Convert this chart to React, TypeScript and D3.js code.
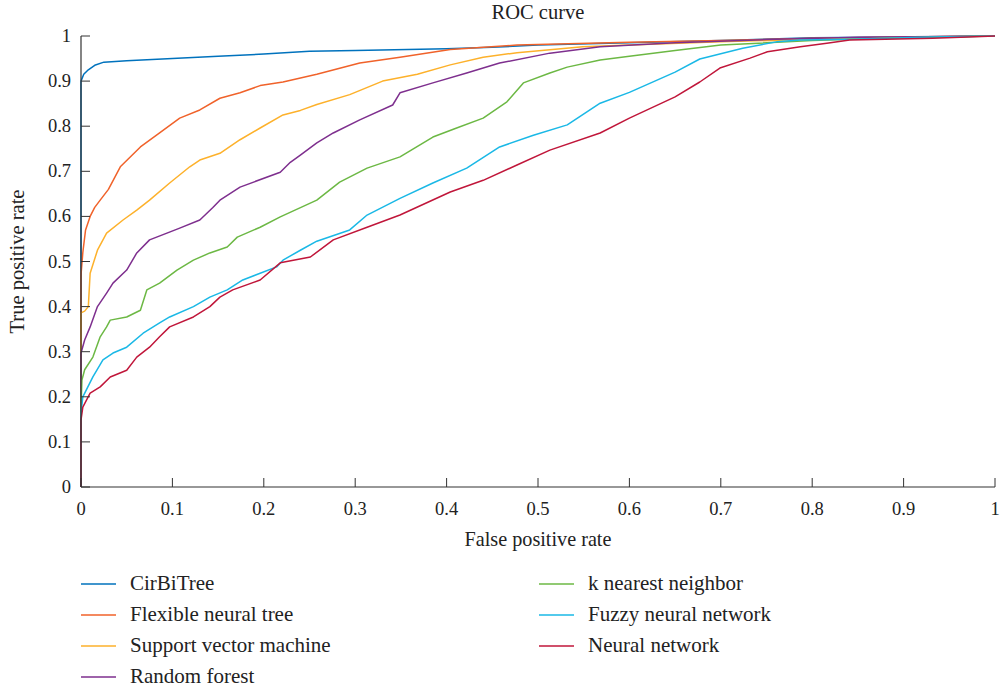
import React from 'react';
import { scaleLinear, line, range, format } from 'd3';

// [false positive rate, true positive rate]
const cirBiTree: [number, number][] = [
  [0, 0], [0, 0.9], [0.003, 0.915], [0.008, 0.925], [0.015, 0.935], [0.025, 0.942], [0.05, 0.945],
  [0.1, 0.95], [0.15, 0.955], [0.2, 0.96], [0.25, 0.966], [0.3, 0.968], [0.4, 0.972], [0.45, 0.975],
  [0.5, 0.98], [0.6, 0.985], [0.7, 0.99], [0.8, 0.996], [0.9, 0.998], [1, 1],
];
const flexibleTree: [number, number][] = [
  [0, 0], [0, 0.47], [0.002, 0.52], [0.005, 0.57], [0.01, 0.6], [0.015, 0.62], [0.021, 0.636],
  [0.03, 0.66], [0.043, 0.71], [0.065, 0.754], [0.086, 0.785], [0.108, 0.818], [0.13, 0.836],
  [0.152, 0.862], [0.174, 0.874], [0.196, 0.89], [0.221, 0.898], [0.258, 0.915], [0.305, 0.94],
  [0.349, 0.953], [0.404, 0.97], [0.477, 0.98], [0.6, 0.986], [0.7, 0.99], [0.8, 0.995],
  [0.9, 0.998], [1, 1],
];
const svm: [number, number][] = [
  [0, 0], [0, 0.386], [0.004, 0.39], [0.008, 0.4], [0.01, 0.474], [0.018, 0.525], [0.028, 0.563],
  [0.046, 0.592], [0.061, 0.614], [0.075, 0.636], [0.097, 0.674], [0.119, 0.71], [0.13, 0.725],
  [0.152, 0.74], [0.174, 0.77], [0.196, 0.796], [0.221, 0.825], [0.24, 0.835], [0.258, 0.848],
  [0.294, 0.87], [0.33, 0.9], [0.368, 0.915], [0.404, 0.936], [0.44, 0.953], [0.477, 0.963],
  [0.549, 0.976], [0.6, 0.98], [0.7, 0.987], [0.8, 0.993], [0.9, 0.997], [1, 1],
];
const randomForest: [number, number][] = [
  [0, 0], [0, 0.297], [0.004, 0.326], [0.01, 0.355], [0.018, 0.4], [0.028, 0.43], [0.035, 0.452],
  [0.05, 0.481], [0.061, 0.519], [0.075, 0.548], [0.094, 0.563], [0.108, 0.574], [0.13, 0.592],
  [0.144, 0.619], [0.152, 0.636], [0.174, 0.665], [0.218, 0.698], [0.229, 0.72], [0.24, 0.736],
  [0.258, 0.763], [0.276, 0.785], [0.305, 0.814], [0.341, 0.847], [0.349, 0.874], [0.385, 0.896],
  [0.422, 0.918], [0.458, 0.94], [0.513, 0.962], [0.568, 0.976], [0.65, 0.985], [0.75, 0.992],
  [0.85, 0.997], [1, 1],
];
const knn: [number, number][] = [
  [0, 0], [0, 0.177], [0.001, 0.237], [0.004, 0.26], [0.013, 0.288], [0.021, 0.333], [0.028, 0.355],
  [0.032, 0.37], [0.05, 0.377], [0.065, 0.392], [0.072, 0.437], [0.086, 0.452], [0.105, 0.481],
  [0.123, 0.503], [0.141, 0.519], [0.16, 0.532], [0.171, 0.554], [0.196, 0.576], [0.218, 0.599],
  [0.258, 0.636], [0.283, 0.676], [0.313, 0.707], [0.349, 0.732], [0.385, 0.776], [0.411, 0.796],
  [0.44, 0.818], [0.466, 0.854], [0.484, 0.896], [0.513, 0.918], [0.532, 0.931], [0.568, 0.947],
  [0.6, 0.955], [0.65, 0.968], [0.7, 0.98], [0.8, 0.99], [0.9, 0.996], [1, 1],
];
const fuzzyNet: [number, number][] = [
  [0, 0], [0, 0.164], [0.002, 0.2], [0.013, 0.244], [0.024, 0.282], [0.035, 0.297], [0.05, 0.31],
  [0.068, 0.341], [0.086, 0.364], [0.097, 0.377], [0.123, 0.4], [0.141, 0.421], [0.16, 0.437],
  [0.177, 0.459], [0.196, 0.474], [0.214, 0.488], [0.221, 0.503], [0.24, 0.525], [0.258, 0.545],
  [0.294, 0.57], [0.313, 0.603], [0.349, 0.64], [0.385, 0.674], [0.422, 0.707], [0.458, 0.754],
  [0.495, 0.78], [0.532, 0.803], [0.568, 0.851], [0.6, 0.875], [0.65, 0.92], [0.677, 0.949],
  [0.724, 0.973], [0.761, 0.987], [0.787, 0.991], [0.841, 0.993], [0.932, 0.998], [1, 1],
];
const neuralNet: [number, number][] = [
  [0, 0], [0, 0.149], [0.002, 0.177], [0.01, 0.208], [0.021, 0.222], [0.032, 0.244], [0.05, 0.259],
  [0.061, 0.288], [0.075, 0.31], [0.086, 0.333], [0.097, 0.355], [0.123, 0.377], [0.141, 0.4],
  [0.152, 0.421], [0.166, 0.437], [0.196, 0.459], [0.218, 0.497], [0.251, 0.51], [0.276, 0.548],
  [0.313, 0.576], [0.349, 0.603], [0.404, 0.654], [0.44, 0.68], [0.477, 0.714], [0.513, 0.747],
  [0.568, 0.785], [0.6, 0.818], [0.65, 0.865], [0.677, 0.898], [0.699, 0.929], [0.732, 0.951],
  [0.751, 0.965], [0.787, 0.976], [0.816, 0.984], [0.841, 0.991], [0.932, 0.995], [1, 1],
];

const names = ['CirBiTree', 'Flexible neural tree', 'Support vector machine', 'Random forest',
  'k nearest neighbor', 'Fuzzy neural network', 'Neural network'];
const colors = ['#0072BD', '#F0622A', '#FDB12B', '#7E2F8E', '#6CB844', '#1AB8E6', '#C0163A'];
const series = [cirBiTree, flexibleTree, svm, randomForest, knn, fuzzyNet, neuralNet];

const FONT = '"Liberation Serif", "DejaVu Serif", serif';

export default function App() {
  const width = 1001, height = 689;
  const left = 81, right = 995, top = 36, bottom = 487;

  const x = scaleLinear().domain([0, 1]).range([left, right]);
  const y = scaleLinear().domain([0, 1]).range([bottom, top]);
  const ticks = range(0, 11).map(i => i / 10);
  const fmt = (d: number) => (d === 0 || d === 1 ? String(d) : format('.1f')(d));

  const lineF = line<[number, number]>().x(d => x(d[0])).y(d => y(d[1]));

  return (
    <svg width={width} height={height} style={{ position: 'absolute', left: 0, top: 0 }}
      fontFamily={FONT} fill="#222">
      <text x={538} y={19} textAnchor="middle" fontSize={20.5}>ROC curve</text>

      {series.map((s, i) => (
        <path key={i} d={lineF(s) || ''} fill="none" stroke={colors[i]} strokeWidth={1.5}
          strokeLinejoin="round" />
      ))}

      {/* axes */}
      <line x1={left} x2={left} y1={top} y2={bottom} stroke="#333" strokeWidth={1.2} />
      <line x1={left} x2={right} y1={bottom} y2={bottom} stroke="#333" strokeWidth={1.2} />
      {ticks.map(t => (
        <g key={'x' + t}>
          <line x1={x(t)} x2={x(t)} y1={bottom} y2={bottom - 9} stroke="#333" />
          <text x={x(t)} y={bottom + 28} textAnchor="middle" fontSize={18.5}>{fmt(t)}</text>
        </g>
      ))}
      {ticks.map(t => (
        <g key={'y' + t}>
          <line x1={left} x2={left + 9} y1={y(t)} y2={y(t)} stroke="#333" />
          <text x={left - 10} y={y(t) + 6} textAnchor="end" fontSize={18.5}>{fmt(t)}</text>
        </g>
      ))}
      <text x={538} y={546} textAnchor="middle" fontSize={20.2}>False positive rate</text>
      <text transform={`translate(24,${(top + bottom) / 2}) rotate(-90)`} textAnchor="middle"
        fontSize={20.5}>True positive rate</text>

      {/* legend */}
      {names.map((n, i) => {
        const col = i < 4 ? 0 : 1;
        const row = i < 4 ? i : i - 4;
        const lx = col === 0 ? 81 : 539;
        const ly = 584 + row * 31;
        return (
          <g key={n}>
            <line x1={lx} x2={lx + 35} y1={ly} y2={ly} stroke={colors[i]} strokeWidth={1.5} />
            <text x={lx + 49} y={ly + 6} fontSize={21}>{n}</text>
          </g>
        );
      })}
    </svg>
  );
}
